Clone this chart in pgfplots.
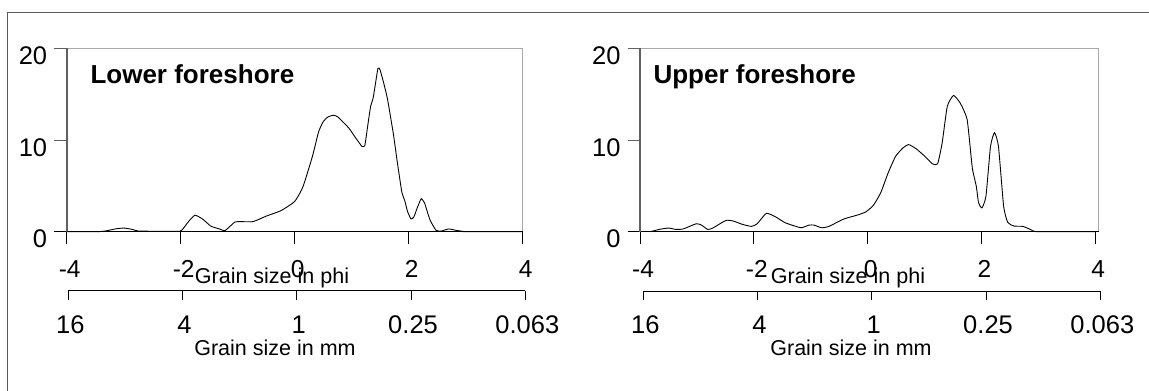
\documentclass[border=0pt]{standalone}
\usepackage{fontspec}
\setmainfont{Liberation Sans}
\usepackage{pgfplots}
\usepackage{pgfplotstable}
\pgfplotsset{compat=1.18}
\definecolor{framegray}{HTML}{5A5A5A}
\definecolor{boxgray}{HTML}{A8A8A8}
\definecolor{yaxgray}{HTML}{606060}

\pgfplotstableread{
phi v
-4 0
-3.45 0
-3.3 0.1
-3.15 0.3
-3.0 0.4
-2.85 0.25
-2.75 0.08
-2.5 0.05
-2.02 0.05
-1.95 0.4
-1.85 1.2
-1.75 1.8
-1.62 1.4
-1.47 0.6
-1.32 0.3
-1.23 0.1
-1.15 0.5
-1.05 1.05
-0.95 1.1
-0.73 1.1
-0.5 1.7
-0.24 2.3
0.0 3.3
0.145 4.9
0.31 8.2
0.42 10.9
0.50 12.0
0.58 12.5
0.68 12.7
0.76 12.5
0.95 11.3
1.05 10.4
1.12 9.8
1.18 9.3
1.23 9.4
1.28 11.5
1.33 13.6
1.38 14.7
1.46 17.8
1.50 17.6
1.57 16.0
1.63 14.4
1.73 10.7
1.80 7.6
1.88 4.3
1.93 3.4
1.98 2.2
2.04 1.4
2.09 1.6
2.15 2.6
2.22 3.6
2.28 3.1
2.33 2.1
2.38 1.2
2.48 0.15
2.57 0.07
2.70 0.3
2.83 0.15
2.96 0.03
3.0 0
4 0
}\lowerdata

\pgfplotstableread{
phi v
-3.82 0
-3.66 0.25
-3.5 0.4
-3.37 0.25
-3.24 0.3
-3.01 0.87
-2.92 0.72
-2.81 0.25
-2.72 0.4
-2.49 1.23
-2.36 1.16
-2.2 0.8
-2.04 0.58
-1.94 0.87
-1.78 2.0
-1.62 1.63
-1.45 0.98
-1.26 0.58
-1.16 0.43
-1.03 0.72
-0.94 0.72
-0.81 0.43
-0.68 0.58
-0.42 1.38
-0.16 1.85
-0.03 2.17
0.10 2.86
0.23 4.24
0.36 6.4
0.49 8.2
0.62 9.13
0.72 9.5
0.85 9.06
1.01 8.2
1.14 7.4
1.23 7.4
1.31 9.67
1.40 13.66
1.51 14.86
1.63 14.0
1.75 12.2
1.84 6.96
1.91 4.96
1.95 3.15
2.01 2.6
2.08 3.88
2.16 9.3
2.23 10.8
2.30 9.3
2.39 2.8
2.46 1.05
2.57 0.62
2.73 0.58
2.86 0.25
2.99 0
4 0
}\upperdata

\pgfplotsset{
  gsbox/.style={
    scale only axis, clip=false,
    xmin=-4, ymin=0, ymax=20,
    axis line style={draw=boxgray, line width=0.8bp},
    xtick={-4,-2,0,2,4}, xticklabels={-4,-2,0,2,4},
    ytick={0,10,20}, yticklabels={0,10,20},
    xtick pos=bottom, ytick pos=left,
    tick align=outside, major tick length=12.5bp,
    xtick style={draw=black, line width=0.8bp},
    ytick style={draw=yaxgray, line width=0.8bp},
    xticklabel style={font=\fontsize{24.5bp}{28bp}\selectfont, yshift=-13bp, xshift=3bp},
    yticklabel style={font=\fontsize{25.5bp}{28bp}\selectfont, xshift=-3.5bp, yshift=-7.5bp},
  },
  mmaxis/.style={
    scale only axis, width=457bp, height=20bp,
    xmin=-4, xmax=4, ymin=0, ymax=1,
    axis x line=bottom, axis y line=none,
    axis line style={-, draw=black, line width=0.8bp},
    xtick={-4,-2,0,2,4}, xticklabels={16,4,1,0.25,0.063},
    tick align=outside, major tick length=9.3bp,
    xtick style={draw=black, line width=0.8bp},
    xticklabel style={font=\fontsize{25.5bp}{28bp}\selectfont, yshift=-12bp, xshift=2bp},
  },
}

\begin{document}
\begin{tikzpicture}[x=1bp,y=1bp]
\useasboundingbox (0,0) rectangle (1149,390);
\draw[framegray, line width=1.3bp] (7.5,-5) -- (7.5,377.3) -- (1160,377.3);

% ---------- left panel ----------
\begin{axis}[gsbox, at={(66.7bp,158.3bp)}, anchor=south west,
  width=456bp, height=183.4bp, xmax=4]
\draw[black, line width=0.9bp] ([xshift=-12.5bp]axis cs:-4,0) -- (axis cs:4,0);
\draw[yaxgray, line width=1.6bp] (axis cs:-4,0) -- (axis cs:-4,20);
\addplot[black, line width=0.9bp, smooth, tension=0.3] table[x=phi, y=v] {\lowerdata};
\end{axis}
\begin{axis}[mmaxis, at={(68.3bp,99.3bp)}, anchor=south west]
\end{axis}
\node[anchor=base west, font=\bfseries\fontsize{26bp}{30bp}\selectfont] at (87,307) {Lower foreshore};
\node[font=\fontsize{21.5bp}{24bp}\selectfont] at (272,112.5) {Grain size in phi};
\node[font=\fontsize{21.5bp}{24bp}\selectfont] at (275,42) {Grain size in mm};

% ---------- right panel ----------
\begin{axis}[gsbox, at={(640bp,158.3bp)}, anchor=south west,
  width=458.6bp, height=183.4bp, xmax=4.06]
\draw[black, line width=0.9bp] ([xshift=-12.5bp]axis cs:-4,0) -- (axis cs:4.06,0);
\draw[yaxgray, line width=1.6bp] (axis cs:-4,0) -- (axis cs:-4,20);
\addplot[black, line width=0.9bp, smooth, tension=0.3] table[x=phi, y=v] {\upperdata};
\end{axis}
\begin{axis}[mmaxis, at={(643.3bp,99bp)}, anchor=south west]
\end{axis}
\node[anchor=base west, font=\bfseries\fontsize{26bp}{30bp}\selectfont] at (650,306.7) {Upper foreshore};
\node[font=\fontsize{21.5bp}{24bp}\selectfont] at (848,112.5) {Grain size in phi};
\node[font=\fontsize{21.5bp}{24bp}\selectfont] at (851,42) {Grain size in mm};
\end{tikzpicture}
\end{document}
